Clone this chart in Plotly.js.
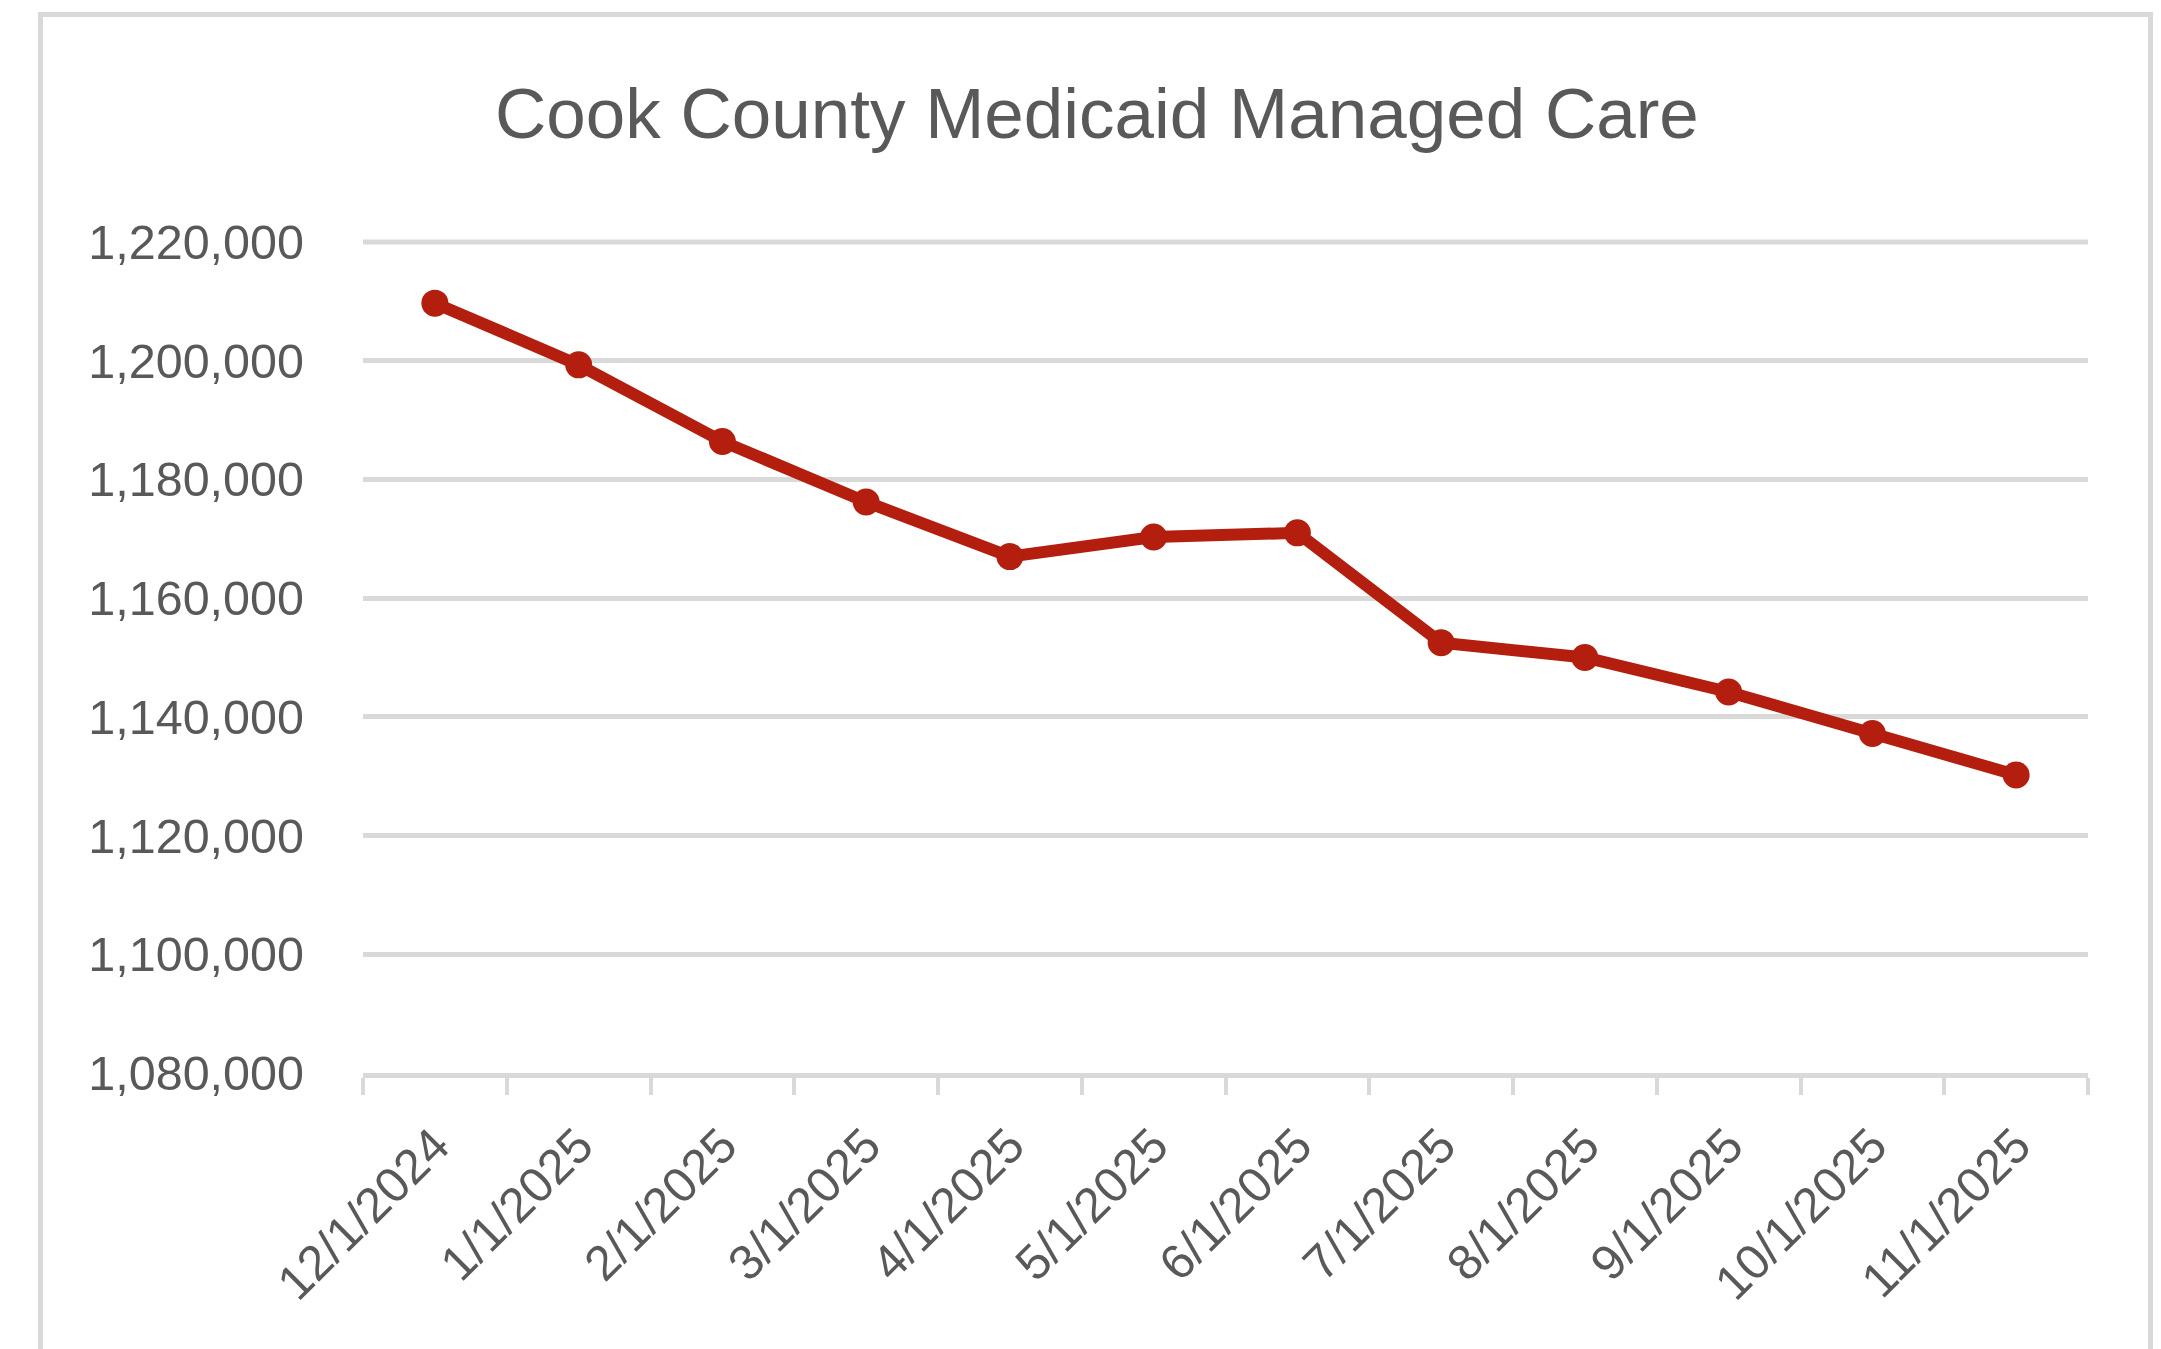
<!DOCTYPE html>
<html>
<head>
<meta charset="utf-8">
<script src="https://cdn.plot.ly/plotly-3.0.1.min.js"></script>
<style>
  html, body { margin: 0; padding: 0; width: 2161px; height: 1349px; overflow: hidden; background: #ffffff; }
  #frame { position: absolute; left: 38px; top: 12px; width: 2115px; height: 1400px; border: 5px solid #d9d9d9; box-sizing: border-box; pointer-events: none; z-index: 2; }
  #chart { position: absolute; left: 0; top: 0; width: 2161px; height: 1349px; z-index: 1; }
</style>
</head>
<body>
<div id="chart"></div>
<div id="frame"></div>
<script>
// Data
const months = ["12/1/2024", "1/1/2025", "2/1/2025", "3/1/2025", "4/1/2025", "5/1/2025",
                "6/1/2025", "7/1/2025", "8/1/2025", "9/1/2025", "10/1/2025", "11/1/2025"];
const enrollment = [1209700, 1199300, 1186400, 1176200, 1167000, 1170300,
                    1171000, 1152500, 1150000, 1144200, 1137200, 1130200];
const yTicks = [1080000, 1100000, 1120000, 1140000, 1160000, 1180000, 1200000, 1220000];
const yMin = 1080000, yMax = 1220000;
const chartTitle = "Cook County Medicaid Managed Care";

const textColor = "#595959";
const gridColor = "#d9d9d9";
const lineColor = "#b31e0e";

const trace = {
  type: "scatter",
  mode: "lines+markers",
  x: months,
  y: enrollment,
  line: { color: lineColor, width: 12 },
  marker: { color: lineColor, size: 27 },
  cliponaxis: false,
  hoverinfo: "x+y"
};

const layout = {
  width: 2161,
  height: 1349,
  paper_bgcolor: "rgba(0,0,0,0)",
  plot_bgcolor: "rgba(0,0,0,0)",
  margin: { l: 363, r: 73, t: 242, b: 276 },
  showlegend: false,
  font: { family: "Liberation Sans, Arial, sans-serif", color: textColor },
  title: {
    text: chartTitle,
    font: { family: "Liberation Sans, Arial, sans-serif", size: 71, color: textColor },
    xref: "container", yref: "container",
    x: 0.5076, xanchor: "center",
    y: 0.9162, yanchor: "middle"
  },
  xaxis: {
    type: "category",
    range: [-0.5, months.length - 0.5],
    tickangle: -45,
    tickson: "boundaries",
    ticks: "outside",
    ticklen: 17,
    tickwidth: 4,
    tickcolor: gridColor,
    showline: true,
    linecolor: gridColor,
    linewidth: 5,
    showgrid: false,
    zeroline: false,
    tickfont: { size: 49, color: textColor },
    ticklabelstandoff: 19
  },
  yaxis: {
    range: [yMin, yMax],
    tickvals: yTicks,
    tickformat: ",d",
    showgrid: true,
    gridcolor: gridColor,
    gridwidth: 5,
    zeroline: false,
    showline: false,
    ticks: "",
    tickfont: { size: 48.5, color: textColor },
    ticklabelstandoff: 58
  },
  shapes: [{
    type: "line", xref: "paper", yref: "paper",
    x0: 0, x1: 1, y0: 1, y1: 1,
    line: { color: gridColor, width: 5 },
    layer: "below"
  }]
};

Plotly.newPlot("chart", [trace], layout, { displayModeBar: false, staticPlot: true });
</script>
</body>
</html>
